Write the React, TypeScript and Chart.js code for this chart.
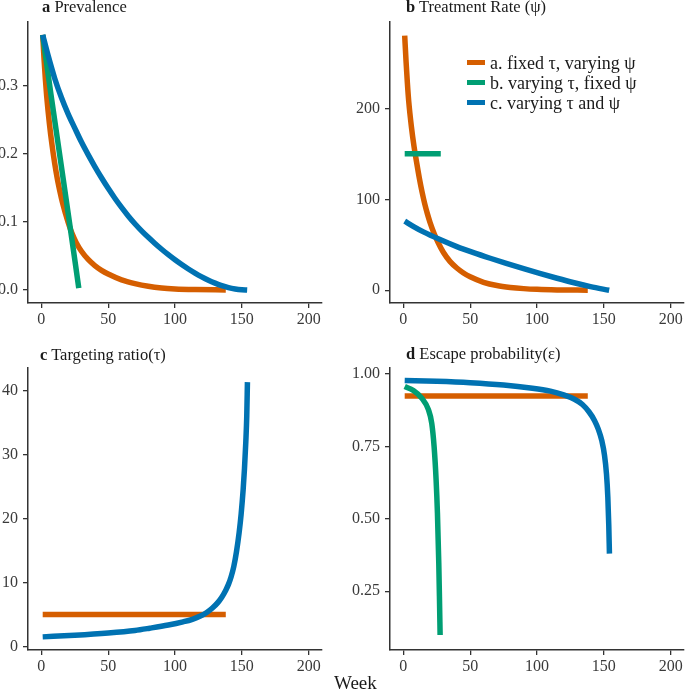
import React, { useEffect, useRef } from "react";
import { Chart, registerables } from "chart.js";
Chart.register(...registerables);

const ORANGE = "#D55E00";
const GREEN = "#009E73";
const BLUE = "#0072B2";
const AXIS = "#333333";
const TEXT = "#3a3a3a";
const FONT = "'Liberation Serif', 'Times New Roman', serif";

// Week axis
const weekTickLabels = ["0", "50", "100", "150", "200"];

// Panel a: Prevalence
const prevTickLabels = ["0.0", "0.1", "0.2", "0.3"];
const prevWeeksA = [1, 2, 3, 4, 6, 8, 10, 12, 14, 16, 18, 20, 23, 26, 30, 35, 40, 45, 50, 60, 70, 80, 90, 100, 115, 138];
const prevA = [0.375, 0.34, 0.31, 0.285, 0.245, 0.213, 0.186, 0.163, 0.144, 0.127, 0.113, 0.1, 0.083, 0.07, 0.057, 0.045, 0.036, 0.029, 0.0235, 0.015, 0.0095, 0.0055, 0.003, 0.0017, 0.0008, 0.0002];
const prevWeeksB = [1, 7, 14, 21, 28];
const prevB = [0.375, 0.29, 0.195, 0.1, 0.003];
const prevWeeksC = [1, 5, 10, 15, 20, 25, 30, 35, 40, 45, 50, 55, 60, 65, 70, 75, 80, 85, 90, 95, 100, 105, 110, 115, 120, 125, 130, 135, 140, 145, 150, 154];
const prevC = [0.375, 0.345, 0.311, 0.283, 0.259, 0.238, 0.2175, 0.199, 0.1815, 0.165, 0.1495, 0.135, 0.1215, 0.109, 0.0975, 0.087, 0.0775, 0.0685, 0.06, 0.052, 0.0445, 0.0375, 0.031, 0.025, 0.0195, 0.0145, 0.0102, 0.0065, 0.0036, 0.0016, 0.0004, 0.0];

// Panel b: Treatment rate (psi)
const psiTickLabels = ["0", "100", "200"];
const psiWeeksA = [1, 2, 3, 4, 6, 8, 10, 12, 14, 16, 18, 20, 23, 26, 30, 35, 40, 45, 50, 60, 70, 80, 90, 100, 115, 138];
const psiA = [280, 252, 228, 208, 180, 158, 140, 123, 108, 95, 84, 74.5, 62.5, 52.5, 41.5, 31.5, 24.5, 19, 14.8, 8.8, 5.2, 3.1, 1.8, 1, 0.4, 0.1];
const psiWeeksB = [1, 28];
const psiB = [150, 150];
const psiWeeksC = [1, 8, 15, 27, 40, 52, 65, 77, 90, 102, 115, 127, 140, 154];
const psiC = [76, 69.8, 64.2, 56, 48, 41.6, 35.2, 29.6, 23.8, 18.6, 13.2, 8.5, 4, 0];

// Panel c: Targeting ratio (tau)
const tauTickLabels = ["0", "10", "20", "30", "40"];
const tauWeeksA = [1, 138];
const tauA = [5, 5];
const tauWeeksC = [1, 25, 50, 70, 81, 95, 106, 113, 119, 124, 128, 132, 135, 138, 140, 142, 144, 146, 148, 149.5, 151, 152, 153, 153.7, 154.2];
const tauC = [1.5, 1.75, 2.1, 2.5, 2.85, 3.35, 3.85, 4.25, 4.75, 5.35, 6.0, 6.85, 7.7, 8.8, 9.7, 10.9, 12.5, 14.8, 17.8, 20.7, 24.5, 27.8, 32, 36, 41.3];

// Panel d: Escape probability (epsilon)
const epsTickLabels = ["0.25", "0.50", "0.75", "1.00"];
const epsWeeksA = [1, 138];
const epsA = [0.924, 0.924];
const epsWeeksB = [1, 7.5, 13.75, 18.75, 21.25, 23, 24.5, 25.5, 26.5, 27, 27.5];
const epsB = [0.957, 0.943, 0.917, 0.877, 0.83, 0.75, 0.635, 0.52, 0.348, 0.231, 0.099];
const epsWeeksC = [1, 25, 50, 75, 95, 110, 120, 128, 134, 139, 143, 146, 148.5, 150.5, 152, 153, 153.7, 154.2];
const epsC = [0.978, 0.975, 0.97, 0.962, 0.952, 0.941, 0.928, 0.913, 0.895, 0.869, 0.84, 0.808, 0.77, 0.72, 0.655, 0.575, 0.48, 0.38];

const legendLabels = ["a. fixed \u03c4, varying \u03c8", "b. varying \u03c4, fixed \u03c8", "c. varying \u03c4 and \u03c8"];
const legendColors = [ORANGE, GREEN, BLUE];

type Series = { x: number[]; y: number[]; color: string; order: number };

type PanelProps = {
  left: number; top: number; width: number; height: number;
  yAxisWidth: number; padTop: number; padRight: number; xAxisHeight: number;
  yMin: number; yMax: number; yTickLabels: string[];
  series: Series[];
};

function Panel(p: PanelProps) {
  const ref = useRef<HTMLCanvasElement | null>(null);
  useEffect(() => {
    if (!ref.current) return;
    const tickFont = { family: FONT, size: 16 };
    const chart = new Chart(ref.current, {
      type: "line",
      data: {
        datasets: p.series.map((s) => ({
          data: s.x.map((x, j) => ({ x, y: s.y[j] })),
          borderColor: s.color,
          backgroundColor: s.color,
          borderWidth: 5.5,
          pointRadius: 0,
          borderCapStyle: "butt",
          borderJoinStyle: "round",
          cubicInterpolationMode: "monotone",
          fill: false,
          order: s.order,
        })),
      },
      options: {
        animation: false,
        responsive: false,
        maintainAspectRatio: false,
        devicePixelRatio: 1,
        events: [],
        layout: { padding: { top: p.padTop, right: p.padRight, left: 0, bottom: 0 } },
        plugins: { legend: { display: false }, tooltip: { enabled: false }, title: { display: false } },
        scales: {
          x: {
            type: "linear",
            min: -10,
            max: 210,
            afterBuildTicks: (s: any) => { s.ticks = weekTickLabels.map((l) => ({ value: parseFloat(l) })); },
            afterFit: (s: any) => { s.height = p.xAxisHeight; },
            grid: { display: true, drawOnChartArea: false, drawTicks: true, tickLength: 5, color: AXIS, lineWidth: 1.3 },
            border: { display: true, color: AXIS, width: 1.5 },
            ticks: {
              font: tickFont, color: TEXT, padding: 2, maxRotation: 0, autoSkip: false,
              callback: (_v: any, i: number) => weekTickLabels[i],
            },
          },
          y: {
            type: "linear",
            min: p.yMin,
            max: p.yMax,
            afterBuildTicks: (s: any) => { s.ticks = p.yTickLabels.map((l) => ({ value: parseFloat(l) })); },
            afterFit: (s: any) => { s.width = p.yAxisWidth; },
            grid: { display: true, drawOnChartArea: false, drawTicks: true, tickLength: 5, color: AXIS, lineWidth: 1.3 },
            border: { display: true, color: AXIS, width: 1.5 },
            ticks: {
              font: tickFont, color: TEXT, padding: 5, autoSkip: false,
              callback: (_v: any, i: number) => p.yTickLabels[i],
            },
          },
        },
      } as any,
    });
    return () => chart.destroy();
  }, []);
  return (
    <canvas
      ref={ref}
      width={p.width}
      height={p.height}
      style={{ position: "absolute", left: p.left, top: p.top, width: p.width, height: p.height }}
    />
  );
}

function Title({ left, top, letter, text }: { left: number; top: number; letter: string; text: string }) {
  return (
    <div style={{ position: "absolute", left, top, fontFamily: FONT, fontSize: 16.5, lineHeight: "18px", color: "#1a1a1a", whiteSpace: "nowrap" }}>
      <b>{letter}</b> {text}
    </div>
  );
}

export default function App() {
  return (
    <div style={{ position: "absolute", left: 0, top: 0, width: 685, height: 690, background: "#fff", overflow: "hidden" }}>
      <Panel
        left={0} top={0} width={340} height={330}
        yAxisWidth={28} padTop={22} padRight={18} xAxisHeight={27}
        yMin={-0.019} yMax={0.394} yTickLabels={prevTickLabels}
        series={[
          { x: prevWeeksA, y: prevA, color: ORANGE, order: 3 },
          { x: prevWeeksB, y: prevB, color: GREEN, order: 2 },
          { x: prevWeeksC, y: prevC, color: BLUE, order: 1 },
        ]}
      />
      <Panel
        left={340} top={0} width={345} height={330}
        yAxisWidth={50} padTop={22} padRight={1} xAxisHeight={27}
        yMin={-14} yMax={295} yTickLabels={psiTickLabels}
        series={[
          { x: psiWeeksA, y: psiA, color: ORANGE, order: 3 },
          { x: psiWeeksB, y: psiB, color: GREEN, order: 2 },
          { x: psiWeeksC, y: psiC, color: BLUE, order: 1 },
        ]}
      />
      <Panel
        left={0} top={330} width={340} height={360}
        yAxisWidth={28} padTop={38} padRight={18} xAxisHeight={40}
        yMin={-0.55} yMax={43.5} yTickLabels={tauTickLabels}
        series={[
          { x: tauWeeksA, y: tauA, color: ORANGE, order: 3 },
          { x: tauWeeksC, y: tauC, color: BLUE, order: 1 },
        ]}
      />
      <Panel
        left={340} top={330} width={345} height={360}
        yAxisWidth={50} padTop={38} padRight={1} xAxisHeight={40}
        yMin={0.047} yMax={1.021} yTickLabels={epsTickLabels}
        series={[
          { x: epsWeeksA, y: epsA, color: ORANGE, order: 3 },
          { x: epsWeeksB, y: epsB, color: GREEN, order: 2 },
          { x: epsWeeksC, y: epsC, color: BLUE, order: 1 },
        ]}
      />
      <Title left={42} top={-2.5} letter="a" text="Prevalence" />
      <Title left={406} top={-2.5} letter="b" text={"Treatment Rate (\u03c8)"} />
      <Title left={40} top={345.5} letter="c" text={"Targeting ratio(\u03c4)"} />
      <Title left={406} top={345} letter="d" text={"Escape probability(\u03b5)"} />
      {legendLabels.map((l, i) => (
        <div key={l} style={{ position: "absolute", left: 467, top: 52.7 + i * 20, height: 20, display: "flex", alignItems: "center", fontFamily: FONT, fontSize: 18, color: "#1a1a1a", whiteSpace: "nowrap" }}>
          <span style={{ display: "inline-block", width: 18, height: 5, background: legendColors[i], marginRight: 5 }} />
          <span style={{ lineHeight: "20px" }}>{l}</span>
        </div>
      ))}
      <div style={{ position: "absolute", left: 334, top: 672, fontFamily: FONT, fontSize: 19, lineHeight: "22px", color: "#1a1a1a", whiteSpace: "nowrap" }}>
        Week
      </div>
    </div>
  );
}
